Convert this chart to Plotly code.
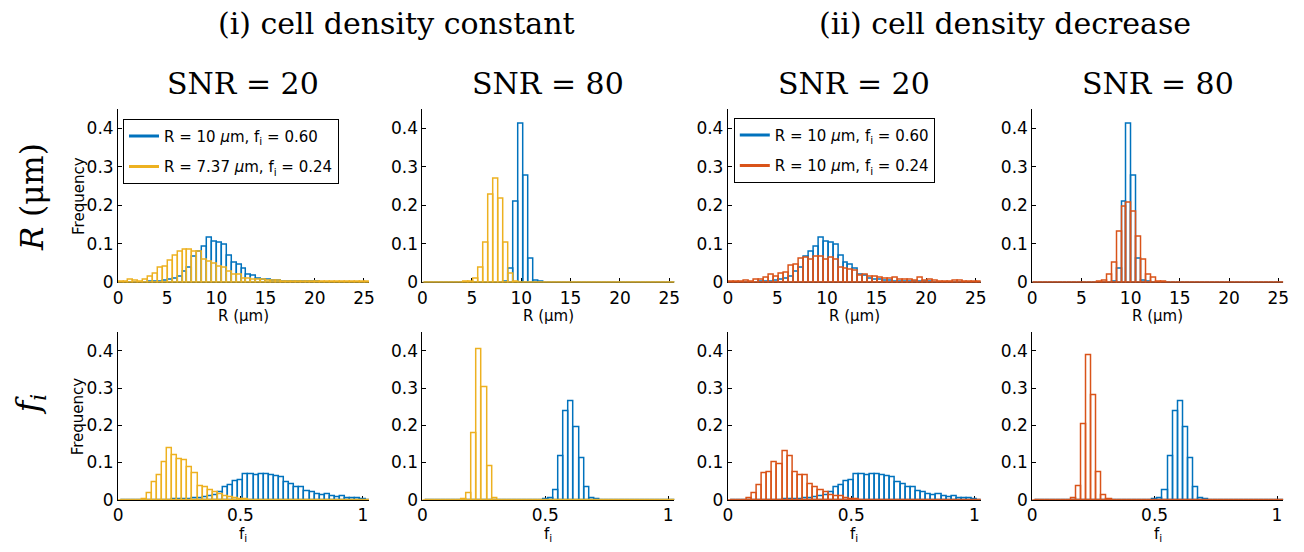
import plotly.graph_objects as go

W, H = 1304, 552

# ---------------- data ----------------
R_BIN = 0.5                          # histogram bin width, R (um)
F_BIN = 0.0208                       # histogram bin width, f_i
R_START = [0.06, 0.2, 0.15, 0.1]     # first bin edge, top row, per column
F_START = 0.013                      # first bin edge, bottom row

r_ticks = [0, 5, 10, 15, 20, 25]
f_ticks = [0, 0.5, 1]
freq_ticks = [0, 0.1, 0.2, 0.3, 0.4]

col_titles = ["SNR = 20", "SNR = 80", "SNR = 20", "SNR = 80"]
group_titles = ["(i) cell density constant", "(ii) cell density decrease"]
legend_const = ["R = 10 <i>μ</i>m, f<sub>i</sub> = 0.60",
                "R = 7.37 <i>μ</i>m, f<sub>i</sub> = 0.24"]
legend_decr = ["R = 10 <i>μ</i>m, f<sub>i</sub> = 0.60",
               "R = 10 <i>μ</i>m, f<sub>i</sub> = 0.24"]

# R histograms (51 bins)
blue_R_snr20 = [0, 0, 0, 0, 0, 0, 0.001, 0.002, 0.003, 0.004,
                0.006, 0.009, 0.015, 0.027, 0.038, 0.066, 0.079, 0.092, 0.117, 0.106,
                0.103, 0.097, 0.070, 0.050, 0.046, 0.035, 0.021, 0.018, 0.009, 0.007,
                0.006, 0.005, 0.004, 0.003, 0.002, 0.002, 0.002, 0.001, 0.001, 0.001,
                0.001, 0, 0, 0, 0, 0, 0, 0, 0, 0, 0]
orange_R_snr20 = [0.003, 0.003, 0.006, 0.004, 0.003, 0.008, 0.014, 0.024, 0.038, 0.041,
                  0.056, 0.070, 0.079, 0.086, 0.085, 0.079, 0.080, 0.060, 0.053, 0.049,
                  0.041, 0.038, 0.028, 0.019, 0.019, 0.011, 0.011, 0.008, 0.007, 0.006,
                  0.005, 0.004, 0.004, 0.003, 0.002, 0.002, 0.002, 0.002, 0.002, 0.002,
                  0.002, 0.001, 0.001, 0.001, 0.002, 0.002, 0.003, 0.001, 0.001, 0.001, 0.001]
blue_R_snr80 = [0, 0, 0, 0, 0, 0, 0, 0, 0, 0,
                0, 0, 0, 0, 0, 0, 0.002, 0.036, 0.209, 0.410,
                0.276, 0.062, 0.004, 0.001, 0, 0, 0, 0, 0, 0,
                0, 0, 0, 0, 0, 0, 0, 0, 0, 0,
                0, 0, 0, 0, 0, 0, 0, 0, 0, 0, 0]
orange_R_snr80 = [0, 0, 0, 0, 0, 0, 0, 0, 0.002, 0.003,
                  0.009, 0.039, 0.104, 0.228, 0.270, 0.218, 0.104, 0.024, 0.003, 0,
                  0, 0, 0, 0, 0, 0, 0, 0, 0, 0,
                  0, 0, 0, 0, 0, 0, 0, 0, 0, 0,
                  0, 0, 0, 0, 0, 0, 0, 0, 0, 0, 0]
red_R_snr20 = [0.001, 0.001, 0.002, 0.004, 0.003, 0.006, 0.008, 0.013, 0.019, 0.015,
               0.023, 0.025, 0.043, 0.047, 0.061, 0.065, 0.060, 0.068, 0.066, 0.060,
               0.064, 0.060, 0.038, 0.036, 0.032, 0.030, 0.018, 0.021, 0.015, 0.014,
               0.013, 0.011, 0.009, 0.013, 0.008, 0.008, 0.006, 0.004, 0.013, 0.004,
               0.007, 0.005, 0.003, 0.002, 0.003, 0.004, 0.004, 0.002, 0.002, 0.001, 0.001]
red_R_snr80 = [0, 0, 0, 0, 0, 0, 0, 0, 0, 0,
               0, 0, 0, 0.002, 0.005, 0.019, 0.052, 0.132, 0.195, 0.206,
               0.184, 0.119, 0.059, 0.019, 0.013, 0.003, 0.001, 0, 0, 0,
               0, 0, 0, 0, 0, 0, 0, 0, 0, 0,
               0, 0, 0, 0, 0, 0, 0, 0, 0, 0, 0]

# f_i histograms (49 bins)
blue_f_snr20 = [0, 0, 0, 0, 0, 0, 0, 0, 0, 0,
                0.001, 0.001, 0.002, 0.002, 0.003, 0.003, 0.006, 0.009, 0.012, 0.020,
                0.033, 0.040, 0.050, 0.053, 0.070, 0.070, 0.065, 0.070, 0.069, 0.065,
                0.064, 0.061, 0.048, 0.043, 0.034, 0.034, 0.022, 0.021, 0.015, 0.012,
                0.015, 0.010, 0.006, 0.009, 0.005, 0.004, 0.003, 0.001, 0]
orange_f_snr20 = [0, 0, 0, 0, 0.002, 0.018, 0.046, 0.066, 0.100, 0.138,
                  0.120, 0.109, 0.106, 0.087, 0.072, 0.036, 0.033, 0.026, 0.021, 0.015,
                  0.010, 0.006, 0.004, 0.002, 0.001, 0, 0, 0, 0, 0,
                  0, 0, 0, 0, 0, 0, 0, 0, 0, 0,
                  0, 0, 0, 0, 0, 0, 0, 0, 0]
blue_f_snr80 = [0, 0, 0, 0, 0, 0, 0, 0, 0, 0,
                0, 0, 0, 0, 0, 0, 0, 0, 0, 0,
                0, 0, 0, 0.001, 0.005, 0.027, 0.118, 0.237, 0.264, 0.195,
                0.112, 0.035, 0.005, 0.001, 0, 0, 0, 0, 0, 0,
                0, 0, 0, 0, 0, 0, 0, 0, 0]
orange_f_snr80 = [0, 0, 0, 0, 0, 0, 0, 0.001, 0.017, 0.180,
                  0.405, 0.303, 0.089, 0.004, 0, 0, 0, 0, 0, 0,
                  0, 0, 0, 0, 0, 0, 0, 0, 0, 0,
                  0, 0, 0, 0, 0, 0, 0, 0, 0, 0,
                  0, 0, 0, 0, 0, 0, 0, 0, 0]
red_f_snr20 = [0, 0, 0, 0.003, 0.018, 0.039, 0.072, 0.074, 0.100, 0.096,
               0.131, 0.118, 0.075, 0.065, 0.065, 0.043, 0.034, 0.026, 0.021, 0.013,
               0.009, 0.009, 0.004, 0.002, 0.001, 0, 0, 0, 0, 0,
               0, 0, 0, 0, 0, 0, 0, 0, 0, 0,
               0, 0, 0, 0, 0, 0, 0, 0, 0]
red_f_snr80 = [0, 0, 0, 0, 0, 0, 0, 0.003, 0.036, 0.202,
               0.389, 0.281, 0.074, 0.013, 0.001, 0, 0, 0, 0, 0,
               0, 0, 0, 0, 0, 0, 0, 0, 0, 0,
               0, 0, 0, 0, 0, 0, 0, 0, 0, 0,
               0, 0, 0, 0, 0, 0, 0, 0, 0]

# ---------------- styles / layout ----------------
BLUE = "#0072BD"
ORANGE = "#EDB120"
RED = "#D95319"
SANS = "DejaVu Sans"
SERIF = "DejaVu Serif"
TICK_SIZE = 17

X_PX = [(114, 367), (421, 675), (729, 984), (1036, 1289)]
Y_PX = [(110.7, 287.7), (338.3, 509.0)]
R_RANGE = [0, 25.5]
F_RANGE = [0, 1.025]
Y_RANGE = [0, 0.45]


def xd(px):
    return px / W


def yd(py):
    return 1 - py / H


panels = [
    # row, col, blue values, second values, second color, bin start, bin width
    (0, 0, blue_R_snr20, orange_R_snr20, ORANGE, R_START[0], R_BIN),
    (0, 1, blue_R_snr80, orange_R_snr80, ORANGE, R_START[1], R_BIN),
    (0, 2, blue_R_snr20, red_R_snr20, RED, R_START[2], R_BIN),
    (0, 3, blue_R_snr80, red_R_snr80, RED, R_START[3], R_BIN),
    (1, 0, blue_f_snr20, orange_f_snr20, ORANGE, F_START, F_BIN),
    (1, 1, blue_f_snr80, orange_f_snr80, ORANGE, F_START, F_BIN),
    (1, 2, blue_f_snr20, red_f_snr20, RED, F_START, F_BIN),
    (1, 3, blue_f_snr80, red_f_snr80, RED, F_START, F_BIN),
]

fig = go.Figure()
layout = dict(
    width=W, height=H,
    margin=dict(l=0, r=0, t=0, b=0),
    paper_bgcolor="white", plot_bgcolor="white",
    barmode="overlay", bargap=0,
    showlegend=True,
    font=dict(family=SANS, size=16, color="black"),
)
shapes = []
annotations = []

for (row, col, vb, vo, ocol, start, width) in panels:
    i = row * 4 + col + 1
    xa = "x" if i == 1 else f"x{i}"
    ya = "y" if i == 1 else f"y{i}"
    for vals, colr in ((vb, BLUE), (vo, ocol)):
        xs = [start + width * (k + 0.5) for k in range(len(vals))]
        fig.add_trace(go.Bar(
            x=xs, y=vals, width=width, xaxis=xa, yaxis=ya,
            marker=dict(color="rgba(255,255,255,0)",
                        line=dict(color=colr, width=1.5)),
            showlegend=False, hoverinfo="skip",
        ))
    x0, x1 = X_PX[col]
    y0, y1 = Y_PX[row]
    layout["xaxis" if i == 1 else f"xaxis{i}"] = dict(
        domain=[xd(x0), xd(x1)], anchor=ya,
        range=R_RANGE if row == 0 else F_RANGE,
        tickvals=r_ticks if row == 0 else f_ticks,
        showline=True, linecolor="black", linewidth=1,
        ticks="inside", ticklen=4, tickcolor="black",
        showgrid=False, zeroline=False,
        tickfont=dict(family=SANS, size=TICK_SIZE, color="black"),
        layer="below traces",
    )
    layout["yaxis" if i == 1 else f"yaxis{i}"] = dict(
        domain=[yd(y1), yd(y0)], anchor=xa,
        range=Y_RANGE, tickvals=freq_ticks,
        showline=True, linecolor="black", linewidth=1,
        ticks="inside", ticklen=4, tickcolor="black",
        showgrid=False, zeroline=False,
        tickfont=dict(family=SANS, size=TICK_SIZE, color="black"),
        layer="below traces",
    )
    # coloured zero baseline of the histogram drawn on top
    shapes.append(dict(type="line", xref=f"{xa} domain", yref=ya,
                       x0=0, x1=1, y0=0, y1=0,
                       line=dict(color=ocol, width=1.5), layer="above"))
    # x axis label
    cx = xd((x0 + x1) / 2)
    if row == 0:
        annotations.append(dict(text="R (μm)", x=cx, y=yd(322), xref="paper", yref="paper",
                                showarrow=False, xanchor="center", yanchor="middle",
                                font=dict(family=SANS, size=15, color="black")))
    else:
        annotations.append(dict(text="f<sub>i</sub>", x=cx, y=yd(544), xref="paper", yref="paper",
                                showarrow=False, xanchor="center", yanchor="middle",
                                font=dict(family=SANS, size=15, color="black")))
    if row == 0:
        annotations.append(dict(text=col_titles[col], x=cx, y=yd(85), xref="paper", yref="paper",
                                showarrow=False, xanchor="center", yanchor="middle",
                                font=dict(family=SERIF, size=30, color="black")))
    if col == 0:
        annotations.append(dict(text="Frequency", x=xd(74), y=yd((y0 + y1) / 2),
                                xref="paper", yref="paper", textangle=-90,
                                showarrow=False, xanchor="center", yanchor="middle",
                                font=dict(family=SANS, size=15, color="black")))

# group titles
annotations.append(dict(text=group_titles[0], x=xd((X_PX[0][0] + X_PX[1][1]) / 2), y=yd(24),
                        xref="paper", yref="paper", showarrow=False,
                        xanchor="center", yanchor="middle",
                        font=dict(family=SERIF, size=30, color="black")))
annotations.append(dict(text=group_titles[1], x=xd((X_PX[2][0] + X_PX[3][1]) / 2), y=yd(24),
                        xref="paper", yref="paper", showarrow=False,
                        xanchor="center", yanchor="middle",
                        font=dict(family=SERIF, size=30, color="black")))
# row labels
annotations.append(dict(text="<i>R</i> (μm)", x=xd(28), y=yd(201), xref="paper", yref="paper",
                        textangle=-90, showarrow=False, xanchor="center", yanchor="middle",
                        font=dict(family=SERIF, size=31, color="black")))
annotations.append(dict(text="<i>f<sub>i</sub></i>", x=xd(26), y=yd(412), xref="paper", yref="paper",
                        textangle=-90, showarrow=False, xanchor="center", yanchor="middle",
                        font=dict(family=SERIF, size=31, color="black")))

# legend entries (line samples)
for name, colr, lg, xa, ya, grp in (
        (legend_const[0], BLUE, "legend", "x", "y", "a1"),
        (legend_const[1], ORANGE, "legend", "x", "y", "a2"),
        (legend_decr[0], BLUE, "legend2", "x3", "y3", "b1"),
        (legend_decr[1], RED, "legend2", "x3", "y3", "b2")):
    fig.add_trace(go.Scatter(x=[None], y=[None], mode="lines", name=name,
                             line=dict(color=colr, width=3), legend=lg,
                             legendgroup=grp, xaxis=xa, yaxis=ya, hoverinfo="skip"))

leg_common = dict(xanchor="left", yanchor="top", bordercolor="black", borderwidth=1,
                  bgcolor="white", font=dict(family=SANS, size=15, color="black"),
                  tracegroupgap=8, itemwidth=30)
layout["legend"] = dict(x=xd(119), y=yd(121), **leg_common)
layout["legend2"] = dict(x=xd(735), y=yd(120), **leg_common)
layout["shapes"] = shapes
layout["annotations"] = annotations
fig.update_layout(**layout)

fig.write_html("out.html", config={"displayModeBar": False})
with open("out.html", "r", encoding="utf-8") as fh:
    html = fh.read()
html = html.replace("<head>", "<head><style>html,body{margin:0;padding:0;overflow:hidden;}</style>", 1)
with open("out.html", "w", encoding="utf-8") as fh:
    fh.write(html)
